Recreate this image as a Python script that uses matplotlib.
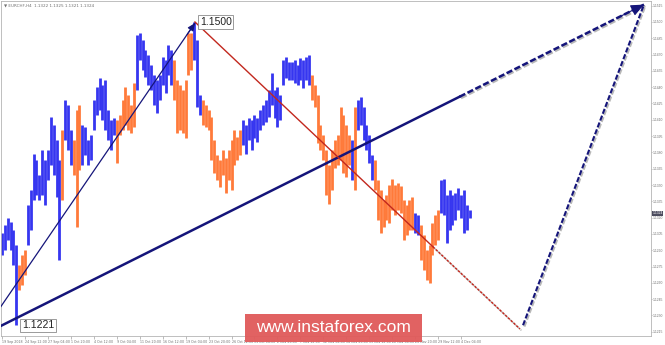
import matplotlib
matplotlib.use("Agg")
import matplotlib.pyplot as plt
import matplotlib.patheffects as pe
from matplotlib.patches import Rectangle

# EURCHF H4, one entry for every two bars
symbol = "EURCHF,H4"
quote = ["1.1322", "1.1325", "1.1321", "1.1324"]
last_price = 1.1324

highs = [1.1306, 1.1313, 1.1320, 1.1316, 1.1309, 1.1295, 1.1276, 1.1286, 1.1290, 1.1332,
         1.1345, 1.1379, 1.1373, 1.1359, 1.1382, 1.1373, 1.1382, 1.1413, 1.1405, 1.1391,
         1.1373, 1.1401, 1.1428, 1.1424, 1.1401, 1.1391, 1.1419, 1.1424, 1.1405, 1.1403,
         1.1391, 1.1396, 1.1428, 1.1440, 1.1448, 1.1442, 1.1447, 1.1419, 1.1410, 1.1412,
         1.1410, 1.1414, 1.1428, 1.1440, 1.1433, 1.1424, 1.1444, 1.1488, 1.1490, 1.1483,
         1.1474, 1.1470, 1.1460, 1.1451, 1.1447, 1.1451, 1.1468, 1.1465, 1.1479, 1.1474,
         1.1465, 1.1447, 1.1442, 1.1437, 1.1447, 1.1490, 1.1490, 1.1500, 1.1483, 1.1433,
         1.1428, 1.1424, 1.1419, 1.1413, 1.1391, 1.1378, 1.1373, 1.1382, 1.1375, 1.1382,
         1.1391, 1.1401, 1.1394, 1.1401, 1.1410, 1.1405, 1.1412, 1.1410, 1.1414, 1.1412,
         1.1419, 1.1424, 1.1428, 1.1437, 1.1453, 1.1437, 1.1440, 1.1433, 1.1465, 1.1468,
         1.1463, 1.1463, 1.1465, 1.1460, 1.1467, 1.1465, 1.1468, 1.1470, 1.1451, 1.1442,
         1.1433, 1.1405, 1.1396, 1.1382, 1.1368, 1.1382, 1.1391, 1.1396, 1.1422, 1.1414,
         1.1405, 1.1396, 1.1391, 1.1422, 1.1428, 1.1431, 1.1422, 1.1405, 1.1396, 1.1378,
         1.1373, 1.1355, 1.1345, 1.1336, 1.1341, 1.1350, 1.1356, 1.1350, 1.1352, 1.1349,
         1.1336, 1.1332, 1.1336, 1.1339, 1.1324, 1.1322, 1.1313, 1.1304, 1.1290, 1.1295,
         1.1315, 1.1322, 1.1327, 1.1355, 1.1356, 1.1341, 1.1345, 1.1341, 1.1343, 1.1347,
         1.1341, 1.1345, 1.1332, 1.1327]

lows = [1.1286, 1.1290, 1.1299, 1.1290, 1.1276, 1.1221, 1.1253, 1.1258, 1.1267, 1.1295,
        1.1309, 1.1336, 1.1341, 1.1336, 1.1341, 1.1332, 1.1355, 1.1368, 1.1359, 1.1339,
        1.1281, 1.1336, 1.1391, 1.1382, 1.1368, 1.1359, 1.1311, 1.1364, 1.1368, 1.1378,
        1.1368, 1.1373, 1.1401, 1.1414, 1.1419, 1.1410, 1.1401, 1.1391, 1.1382, 1.1396,
        1.1370, 1.1396, 1.1401, 1.1405, 1.1401, 1.1398, 1.1403, 1.1437, 1.1465, 1.1456,
        1.1449, 1.1442, 1.1437, 1.1424, 1.1416, 1.1428, 1.1442, 1.1435, 1.1451, 1.1442,
        1.1428, 1.1398, 1.1401, 1.1398, 1.1393, 1.1451, 1.1456, 1.1465, 1.1422, 1.1414,
        1.1405, 1.1403, 1.1401, 1.1373, 1.1361, 1.1355, 1.1348, 1.1359, 1.1343, 1.1355,
        1.1345, 1.1368, 1.1373, 1.1378, 1.1387, 1.1379, 1.1391, 1.1382, 1.1393, 1.1390,
        1.1401, 1.1405, 1.1408, 1.1413, 1.1424, 1.1412, 1.1403, 1.1410, 1.1442, 1.1448,
        1.1447, 1.1447, 1.1444, 1.1442, 1.1447, 1.1439, 1.1447, 1.1442, 1.1428, 1.1422,
        1.1389, 1.1382, 1.1373, 1.1341, 1.1333, 1.1345, 1.1366, 1.1368, 1.1373, 1.1361,
        1.1357, 1.1368, 1.1355, 1.1345, 1.1401, 1.1405, 1.1391, 1.1382, 1.1370, 1.1355,
        1.1345, 1.1318, 1.1306, 1.1311, 1.1318, 1.1315, 1.1327, 1.1322, 1.1327, 1.1324,
        1.1299, 1.1304, 1.1309, 1.1309, 1.1306, 1.1304, 1.1281, 1.1272, 1.1263, 1.1260,
        1.1286, 1.1295, 1.1299, 1.1324, 1.1322, 1.1297, 1.1309, 1.1313, 1.1318, 1.1327,
        1.1320, 1.1306, 1.1309, 1.1320]

# runs of bar colouring: B = blue, O = orange
legs = [("B", 6), ("O", 3), ("B", 12), ("O", 1), ("B", 3), ("O", 3), ("B", 12),
        ("O", 7), ("B", 13), ("O", 7), ("B", 3), ("O", 14), ("B", 24), ("O", 14),
        ("B", 1), ("O", 1), ("B", 6), ("O", 14), ("B", 2), ("O", 7), ("B", 11)]

time_labels = ["19 Sep 2018", "24 Sep 12:00", "27 Sep 04:00", "1 Oct 20:00", "4 Oct 12:00",
               "9 Oct 04:00", "11 Oct 20:00", "16 Oct 12:00", "19 Oct 04:00", "23 Oct 20:00",
               "26 Oct 12:00", "31 Oct 04:00", "2 Nov 20:00", "7 Nov 12:00", "12 Nov 04:00",
               "14 Nov 20:00", "19 Nov 12:00", "22 Nov 04:00", "26 Nov 20:00", "29 Nov 12:00",
               "4 Dec 04:00"]
price_ticks = [1.1215, 1.1230, 1.1245, 1.1260, 1.1275, 1.1290, 1.1305, 1.1320, 1.1335,
               1.1350, 1.1365, 1.1380, 1.1395, 1.1410, 1.1425, 1.1440, 1.1455, 1.1470,
               1.1485, 1.1500, 1.1515]

# wave lines (bar index, price)
impulse_x, impulse_y = [-1.4, 134.5], [1.1237, 1.1499]
channel_x, channel_y, channel_solid_to = [-1.4, 447.5], [1.1220, 1.1516], 319
down_x, down_y, down_solid_to = [134.5, 361.1], [1.1500, 1.12175], 300.5
target_x, target_y = [363.2, 447.5], [1.1221, 1.1516]

pivots = [(134, 1.1500), (10, 1.1221)]

BLUE = "#3636f0"
ORANGE = "#ff7a3a"
NAVY = "#15157a"
RED = "#c2281e"
AXIS_FONT = "Liberation Sans"

colors = []
for c, n in legs:
    colors += [BLUE if c == "B" else ORANGE] * n
xs = [2 * k for k in range(len(highs))]

fig = plt.figure(figsize=(6.65, 3.45), dpi=100)
ax = fig.add_axes([1 / 665, 9 / 345, 650 / 665, 335 / 345])
ax.set_xlim(-0.7, 452.4)
ax.set_ylim(1.12111, 1.15193)

ax.vlines(xs, lows, highs, colors=colors, linewidth=2.0, zorder=2)

shadow = [pe.SimpleLineShadow(offset=(1, -1), shadow_color="#8a8a8a", alpha=0.6), pe.Normal()]


def point_on(xx, yy, at):
    t = (at - xx[0]) / (xx[1] - xx[0])
    return at, yy[0] + t * (yy[1] - yy[0])


def head(xx, yy, color, hl, hw):
    back = point_on(xx, yy, xx[1] - 0.04 * (xx[1] - xx[0]))
    ax.annotate("", xy=(xx[1], yy[1]), xytext=back,
                arrowprops=dict(arrowstyle=f"-|>,head_length={hl},head_width={hw}",
                                color=color, lw=0.8, shrinkA=0, shrinkB=0), zorder=6)


# thin impulse arrow
ax.plot(impulse_x, impulse_y, color=NAVY, lw=0.9, zorder=4)
head(impulse_x, impulse_y, NAVY, 0.45, 0.2)

# channel line: solid then dashed projection
mid = point_on(channel_x, channel_y, channel_solid_to)
ax.plot([channel_x[0], mid[0]], [channel_y[0], mid[1]], color=NAVY, lw=1.8, zorder=4)
ax.plot([mid[0], channel_x[1]], [mid[1], channel_y[1]], color=NAVY, lw=1.8,
        linestyle=(0, (2.5, 1)), path_effects=shadow, zorder=4)
head(channel_x, channel_y, NAVY, 0.8, 0.35)

# red down leg
mid = point_on(down_x, down_y, down_solid_to)
ax.plot([down_x[0], mid[0]], [down_y[0], mid[1]], color=RED, lw=1.0, zorder=4)
ax.plot([mid[0], down_x[1]], [mid[1], down_y[1]], color=RED, lw=1.1,
        linestyle=(0, (1.5, 1)), path_effects=shadow, zorder=4)

# final projected leg
ax.plot(target_x, target_y, color=NAVY, lw=1.5, linestyle=(0, (2.5, 1)),
        path_effects=shadow, zorder=4)

for bx, val in pivots:
    ax.annotate(f"{val:.4f}", xy=(bx, val), xytext=(4, 0), textcoords="offset points",
                va="center", ha="left", fontsize=7.5, family="Liberation Sans", color="#222222",
                bbox=dict(boxstyle="square,pad=0.15", fc="white", ec="#8a8a8a", lw=0.6),
                zorder=7)

ax.text(0.004, 0.994, "\u25bc " + symbol + "  " + " ".join(quote), transform=ax.transAxes,
        va="top", ha="left", fontsize=3.0, color="#707070")

ax.set_xticks([16 * j for j in range(len(time_labels))])
ax.set_xticklabels(time_labels, fontsize=2.3, color="#707070")
for lab in ax.get_xticklabels():
    lab.set_ha("left")
ax.yaxis.tick_right()
ax.set_yticks(price_ticks)
ax.set_yticklabels([f"{p:.4f}" for p in price_ticks], fontsize=2.4, color="#707070",
                   family=AXIS_FONT)
ax.tick_params(axis="x", length=2, width=0.5, color="#a0a0a0", pad=1.0)
ax.tick_params(axis="y", length=1.0, width=0.5, color="#a0a0a0", pad=0.5)
for s in ax.spines.values():
    s.set_color("#b4b4b4")
    s.set_linewidth(0.6)

ax.annotate(f"{last_price:.4f}", xy=(1, last_price), xycoords=("axes fraction", "data"),
            xytext=(0.9, 0), textcoords="offset points", va="center", ha="left",
            fontsize=2.4, family=AXIS_FONT, color="white",
            bbox=dict(boxstyle="square,pad=0.2", fc="#4c4c5e", ec="none"), zorder=8)

# watermark
fig.add_artist(Rectangle((245 / 665, 3 / 345), 177 / 665, 28 / 345, transform=fig.transFigure,
                         fc="#e05a5a", ec="none", alpha=0.95, zorder=10))
fig.text(333.5 / 665, 1 - 327 / 345, "www.instaforex.com", ha="center", va="center",
         fontsize=12.5, family="Liberation Sans", color="white", zorder=11)

fig.savefig("out.png", dpi=100, facecolor="white")
